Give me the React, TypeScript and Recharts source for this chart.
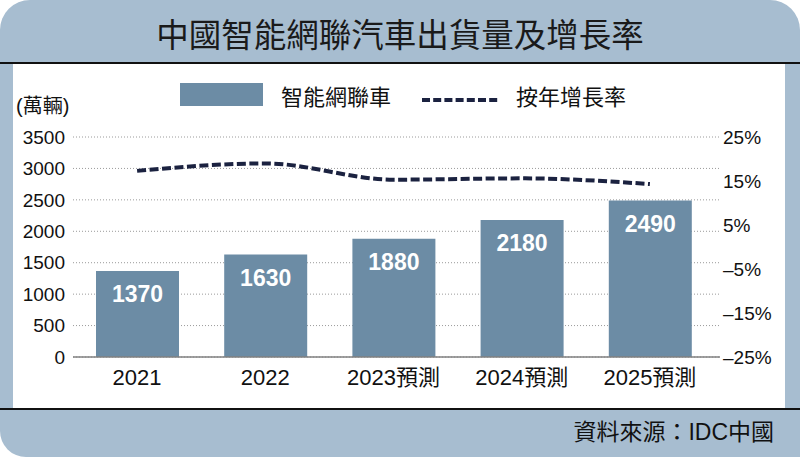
import React from 'react';
import { ComposedChart, Bar, Line, XAxis, YAxis, CartesianGrid, LabelList } from 'recharts';

const categories = ['2021', '2022', '2023預測', '2024預測', '2025預測'];
const shipments = [1370, 1630, 1880, 2180, 2490];
const growthRates = [17.3, 19.0, 15.3, 15.6, 14.3];
const leftTicks = [0, 500, 1000, 1500, 2000, 2500, 3000, 3500];
const rightTicks = [-25, -15, -5, 5, 15, 25];

const data = categories.map((c, i) => ({ category: c, shipments: shipments[i], growth: growthRates[i] }));

const BLUE_BG = '#a7bdd0';
const BAR = '#6c8ca5';
const LINE = '#1b2240';
const LATIN = '"Liberation Sans", Arial, "Noto Sans CJK TC", sans-serif';
const CJK = '"Noto Sans CJK TC", "Noto Sans CJK SC", sans-serif';

const fmtPct = (v: number) => (v < 0 ? '–' + Math.abs(v) : String(v)) + '%';

export default function App() {
  return (
    <div style={{ position: 'absolute', left: 0, top: 0, width: 800, height: 457, background: '#fff', overflow: 'hidden' }}>
      <div style={{ position: 'absolute', left: 0, top: 0, width: 800, height: 457, background: BLUE_BG, borderRadius: '30px 30px 0 26px' }} />
      <div style={{ position: 'absolute', left: 0, top: 62, width: 800, height: 2, background: '#111' }} />
      <div style={{ position: 'absolute', left: 13, top: 64, width: 772, height: 344, background: '#fff' }} />
      <div style={{ position: 'absolute', left: 0, top: 408, width: 800, height: 2, background: '#111' }} />
      <div style={{ position: 'absolute', left: 0, top: 12, width: 800, height: 42, lineHeight: '42px', textAlign: 'center', fontFamily: CJK, fontSize: 32.5, color: '#1a1a1a' }}>
        中國智能網聯汽車出貨量及增長率
      </div>
      <div style={{ position: 'absolute', left: 16, top: 93, height: 26, lineHeight: '26px', fontFamily: LATIN, fontSize: 20, color: '#111' }}>
        (萬輛)
      </div>
      {/* legend */}
      <div style={{ position: 'absolute', left: 180, top: 83, width: 83, height: 23, background: BAR }} />
      <div style={{ position: 'absolute', left: 281, top: 80, height: 30, lineHeight: '30px', fontFamily: CJK, fontSize: 22, color: '#111' }}>智能網聯車</div>
      <svg style={{ position: 'absolute', left: 420, top: 90, overflow: 'visible' }} width={82} height={20}>
        <line x1={2} y1={10} x2={80} y2={10} stroke={LINE} strokeWidth={4} strokeDasharray="8 3.2" />
      </svg>
      <div style={{ position: 'absolute', left: 516, top: 80, height: 30, lineHeight: '30px', fontFamily: CJK, fontSize: 22, color: '#111' }}>按年增長率</div>
      <div style={{ position: 'absolute', right: 26, top: 418, height: 28, lineHeight: '28px', fontFamily: LATIN, fontSize: 23, color: '#111' }}>
        資料來源：IDC中國
      </div>
      <div style={{ position: 'absolute', left: 0, top: 0 }}>
        <ComposedChart width={800} height={457} data={data} margin={{ top: 137, right: 0, bottom: 60, left: 0 }}>
          <CartesianGrid yAxisId="left" vertical={false} stroke="#9a9a9a" strokeDasharray="1 2" />
          <XAxis
            dataKey="category"
            height={40}
            padding={{ left: 0, right: 6 }}
            tickLine={false}
            tickSize={0}
            tickMargin={12}
            axisLine={{ stroke: '#808080', strokeWidth: 1.5 }}
            tick={{ fill: '#111', fontSize: 22, fontFamily: LATIN }}
            interval={0}
          />
          <YAxis
            yAxisId="left"
            orientation="left"
            width={73}
            domain={[0, 3500]}
            ticks={leftTicks}
            interval={0}
            axisLine={false}
            tickLine={false}
            tickSize={0}
            tickMargin={8}
            tick={{ fill: '#111', fontSize: 19, fontFamily: LATIN }}
          />
          <YAxis
            yAxisId="right"
            orientation="right"
            width={80}
            domain={[-25, 25]}
            ticks={rightTicks}
            interval={0}
            axisLine={false}
            tickLine={false}
            tickSize={0}
            tickMargin={3}
            tickFormatter={fmtPct}
            tick={{ fill: '#111', fontSize: 19, fontFamily: LATIN, textAnchor: 'start' }}
          />
          <Bar yAxisId="left" dataKey="shipments" fill={BAR} barSize={83} isAnimationActive={false}>
            <LabelList dataKey="shipments" position="insideTop" offset={15} fill="#fff" fontSize={23} fontWeight="bold" fontFamily={LATIN} />
          </Bar>
          <Line
            yAxisId="right"
            type="monotone"
            dataKey="growth"
            stroke={LINE}
            strokeWidth={4}
            strokeDasharray="9 3.5"
            dot={false}
            activeDot={false}
            isAnimationActive={false}
          />
        </ComposedChart>
      </div>
    </div>
  );
}
